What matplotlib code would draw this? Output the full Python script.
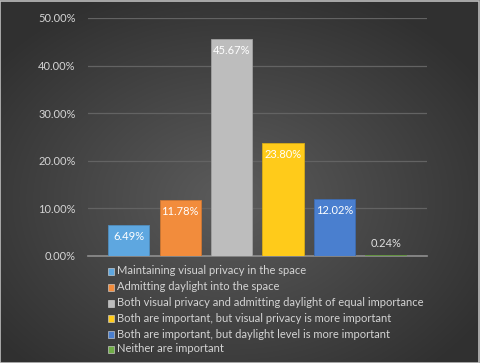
import numpy as np
import matplotlib
matplotlib.use("Agg")
import matplotlib.pyplot as plt
from matplotlib.patches import Rectangle
from matplotlib.transforms import offset_copy

categories = [
    "Maintaining visual privacy in the space",
    "Admitting daylight into the space",
    "Both visual privacy and admitting daylight of equal importance",
    "Both are important, but visual privacy is more important",
    "Both are important, but daylight level is more important",
    "Neither are important",
]
values = [6.49, 11.78, 45.67, 23.80, 12.02, 0.24]
labels = ["6.49%", "11.78%", "45.67%", "23.80%", "12.02%", "0.24%"]
colors = ["#5ea7e0", "#f28c3c", "#bdbdbd", "#ffcb1a", "#4a7fcf", "#70ad47"]
yticks = [0, 10, 20, 30, 40, 50]
ytick_labels = ["0.00%", "10.00%", "20.00%", "30.00%", "40.00%", "50.00%"]

plt.rcParams['font.family'] = ['Lato', 'DejaVu Sans']

W, H = 480, 363
fig = plt.figure(figsize=(W/100, H/100), dpi=100)

# background radial gradient
bg = fig.add_axes([0, 0, 1, 1])
yy, xx = np.mgrid[0:H, 0:W]
cx, cy = W*0.48, H*0.55
r = np.sqrt(((xx-cx)/(W*0.62))**2 + ((yy-cy)/(H*0.62))**2)
r = np.clip(r, 0, 1)
val = 0.36 - 0.17*r
img = np.dstack([val, val, val])
bg.imshow(img, extent=[0, 1, 0, 1], aspect='auto', origin='upper')
bg.add_patch(Rectangle((0.001, 0.001), 0.997, 0.996, fill=False, edgecolor="#bdbdbd", lw=1.2, transform=bg.transAxes))
bg.set_axis_off()

ax = fig.add_axes([88/W, 1-256/H, (427-88)/W, (256-18)/H])
ax.set_facecolor("none")
x = np.arange(len(values))
bars = ax.bar(x, values, width=0.8, color=colors, linewidth=0.6, zorder=3)
for b, c in zip(bars, colors):
    b.set_edgecolor(tuple(np.array(matplotlib.colors.to_rgb(c))*0.85))

ax.set_xlim(-0.79, 5.8)
ax.set_ylim(0, 50)
ax.set_yticks(yticks)
ax.set_yticklabels(ytick_labels, color="#d4d4d4", fontsize=8)
ax.set_xticks([])
ax.grid(axis='y', color="#636363", lw=0.9, zorder=0)
for s in ["top", "right", "left"]:
    ax.spines[s].set_visible(False)
ax.spines["bottom"].set_color("#8f8f8f")
ax.spines["bottom"].set_linewidth(1.2)
ax.tick_params(axis='y', length=0, pad=9)

for xi, v, lab in zip(x, values, labels):
    if v > 3:
        ax.text(xi, v, lab, transform=offset_copy(ax.transData, fig=fig, x=0, y=-11.5, units='dots'),
                ha='center', va='center', color="white", fontsize=8, zorder=4)
    else:
        ax.text(xi, v, lab, transform=offset_copy(ax.transData, fig=fig, x=0, y=11, units='dots'),
                ha='center', va='center', color="#e0e0e0", fontsize=8, zorder=4)

# legend
ys = [271, 287, 303, 318, 334, 349]
for c, lab, yp in zip(colors, categories, ys):
    bg.add_patch(Rectangle((108/W, 1-(yp+3.5)/H), 6/W, 7/H, facecolor=c, edgecolor="#dddddd", lw=0.4, transform=bg.transAxes))
    bg.text(117/W, 1-yp/H, lab, color="#d4d4d4", fontsize=8, va='center', ha='left', transform=bg.transAxes)

fig.savefig("out.png", dpi=100)
